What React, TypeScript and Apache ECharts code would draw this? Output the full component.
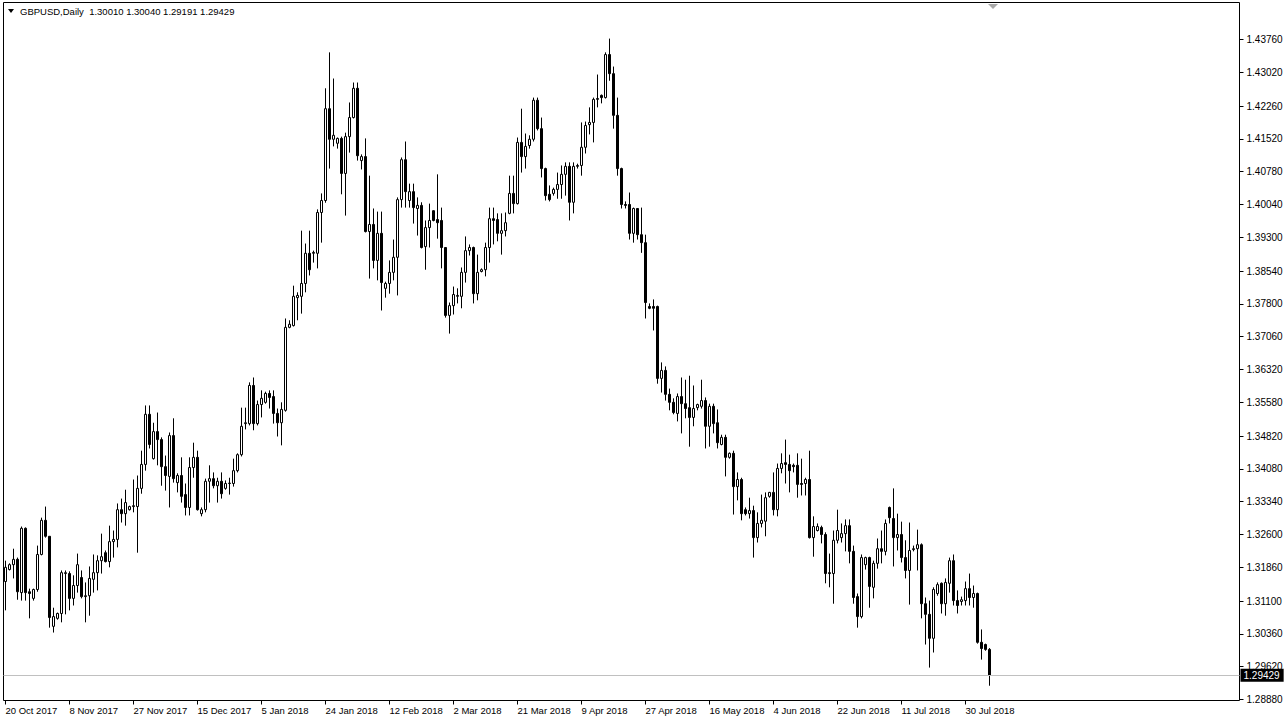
import { useEffect, useRef } from 'react';
import * as echarts from 'echarts';

const symbolTitle = 'GBPUSD,Daily';
const headerValues = ['1.30010', '1.30040', '1.29191', '1.29429'];

const tickLabels = [
  '20 Oct 2017', '8 Nov 2017', '27 Nov 2017', '15 Dec 2017', '5 Jan 2018', '24 Jan 2018',
  '12 Feb 2018', '2 Mar 2018', '21 Mar 2018', '9 Apr 2018', '27 Apr 2018', '16 May 2018',
  '4 Jun 2018', '22 Jun 2018', '11 Jul 2018', '30 Jul 2018',
];
const BARS_PER_LABEL = 16;
const TOTAL_SLOTS = 309;

const priceTicks = [
  1.4376, 1.4302, 1.4226, 1.4152, 1.4078, 1.4004, 1.393, 1.3854, 1.378, 1.3706, 1.3632,
  1.3558, 1.3482, 1.3408, 1.3334, 1.326, 1.3186, 1.311, 1.3036, 1.2962, 1.2888,
];
const Y_MIN = 1.28858;
const Y_MAX = 1.44594;
const lastPrice = 1.29429;

const opens = [
  1.3154, 1.3181, 1.3192, 1.3204, 1.3129, 1.3274, 1.3131, 1.3116, 1.3136, 1.3215,
  1.3292, 1.3256, 1.3053, 1.3071, 1.3082, 1.3172, 1.3172, 1.3116, 1.3145, 1.3163,
  1.3120, 1.3122, 1.3159, 1.3174, 1.3201, 1.3219, 1.3199, 1.3244, 1.3249, 1.3316,
  1.3307, 1.3316, 1.3323, 1.3323, 1.3364, 1.3418, 1.3531, 1.3431, 1.3492, 1.3474,
  1.3413, 1.3391, 1.3483, 1.3377, 1.3393, 1.3350, 1.3321, 1.3411, 1.3434, 1.3307,
  1.3316, 1.3380, 1.3386, 1.3370, 1.3380, 1.3364, 1.3375, 1.3375, 1.3404, 1.3440,
  1.3510, 1.3510, 1.3596, 1.3510, 1.3553, 1.3558, 1.3578, 1.3571, 1.3533, 1.3512,
  1.3540, 1.3727, 1.3731, 1.3794, 1.3797, 1.3826, 1.3894, 1.3894, 1.3894, 1.3986,
  1.4013, 1.4220, 1.4151, 1.4142, 1.4153, 1.4074, 1.4157, 1.4200, 1.4266, 1.4103,
  1.4112, 1.3943, 1.3959, 1.3878, 1.3939, 1.3815, 1.3826, 1.3851, 1.3885, 1.4015,
  1.4105, 1.4013, 1.4033, 1.3995, 1.4002, 1.3909, 1.3952, 1.3990, 1.3970, 1.3968,
  1.3907, 1.3754, 1.3776, 1.3797, 1.3797, 1.3851, 1.3900, 1.3907, 1.3803, 1.3853,
  1.3857, 1.3907, 1.3972, 1.3970, 1.3939, 1.3945, 1.3984, 1.4029, 1.4006, 1.4144,
  1.4112, 1.4137, 1.4151, 1.4239, 1.4175, 1.4085, 1.4027, 1.4029, 1.4038, 1.4049,
  1.4072, 1.4090, 1.4009, 1.4090, 1.4092, 1.4133, 1.4184, 1.4189, 1.4241, 1.4250,
  1.4245, 1.4342, 1.4299, 1.4205, 1.4085, 1.4004, 1.4004, 1.3939, 1.3995, 1.3936,
  1.3918, 1.3774, 1.3774, 1.3774, 1.3612, 1.3630, 1.3576, 1.3558, 1.3533, 1.3571,
  1.3555, 1.3546, 1.3524, 1.3546, 1.3549, 1.3562, 1.3504, 1.3549, 1.3512, 1.3463,
  1.3479, 1.3434, 1.3443, 1.3368, 1.3384, 1.3316, 1.3307, 1.3314, 1.3253, 1.3285,
  1.3290, 1.3346, 1.3355, 1.3316, 1.3409, 1.3422, 1.3418, 1.3416, 1.3416, 1.3375,
  1.3375, 1.3384, 1.3253, 1.3269, 1.3276, 1.3260, 1.3174, 1.3172, 1.3247, 1.3253,
  1.3262, 1.3280, 1.3222, 1.3120, 1.3075, 1.3192, 1.3208, 1.3141, 1.3195, 1.3228,
  1.3222, 1.3321, 1.3296, 1.3253, 1.3260, 1.3208, 1.3179, 1.3226, 1.3228, 1.3237,
  1.3104, 1.3080, 1.3026, 1.3127, 1.3150, 1.3104, 1.3150, 1.3201, 1.3111, 1.3109,
  1.3111, 1.3138, 1.3118, 1.3127, 1.3017, 1.3012, 1.30010,
];
const closes = [
  1.3186, 1.3192, 1.3204, 1.3131, 1.3274, 1.3129, 1.3127, 1.3136, 1.3215, 1.3292,
  1.3256, 1.3073, 1.3075, 1.3082, 1.3174, 1.3174, 1.3116, 1.3145, 1.3192, 1.3120,
  1.3122, 1.3161, 1.3174, 1.3201, 1.3210, 1.3199, 1.3244, 1.3249, 1.3316, 1.3307,
  1.3332, 1.3323, 1.3325, 1.3364, 1.3418, 1.3531, 1.3463, 1.3492, 1.3474, 1.3413,
  1.3393, 1.3483, 1.3386, 1.3393, 1.3346, 1.3321, 1.3411, 1.3434, 1.3316, 1.3316,
  1.3380, 1.3386, 1.3370, 1.3380, 1.3352, 1.3375, 1.3376, 1.3404, 1.3440, 1.3504,
  1.3512, 1.3596, 1.3510, 1.3553, 1.3567, 1.3578, 1.3569, 1.3533, 1.3512, 1.3542,
  1.3727, 1.3734, 1.3797, 1.3799, 1.3826, 1.3894, 1.3857, 1.3896, 1.3986, 1.4013,
  1.4220, 1.4151, 1.4160, 1.4153, 1.4074, 1.4157, 1.4200, 1.4266, 1.4114, 1.4112,
  1.3943, 1.3959, 1.3878, 1.3939, 1.3828, 1.3826, 1.3851, 1.3885, 1.4015, 1.4105,
  1.4033, 1.4033, 1.3997, 1.4002, 1.3907, 1.3952, 1.3968, 1.3968, 1.3963, 1.3907,
  1.3754, 1.3776, 1.3801, 1.3799, 1.3851, 1.3900, 1.3907, 1.3803, 1.3851, 1.3857,
  1.3907, 1.3972, 1.3968, 1.3939, 1.3945, 1.3963, 1.4029, 1.4006, 1.4144, 1.4112,
  1.4135, 1.4151, 1.4239, 1.4175, 1.4085, 1.4024, 1.4015, 1.4038, 1.4049, 1.4072,
  1.4090, 1.4009, 1.4090, 1.4092, 1.4133, 1.4182, 1.4189, 1.4241, 1.4243, 1.4245,
  1.4342, 1.4299, 1.4205, 1.4085, 1.4004, 1.4002, 1.3939, 1.3995, 1.3936, 1.3918,
  1.3783, 1.3770, 1.3770, 1.3612, 1.3630, 1.3576, 1.3558, 1.3535, 1.3571, 1.3555,
  1.3544, 1.3524, 1.3544, 1.3553, 1.3562, 1.3504, 1.3549, 1.3510, 1.3467, 1.3479,
  1.3434, 1.3443, 1.3368, 1.3384, 1.3307, 1.3307, 1.3314, 1.3253, 1.3285, 1.3292,
  1.3343, 1.3355, 1.3316, 1.3409, 1.3420, 1.3418, 1.3404, 1.3413, 1.3373, 1.3373,
  1.3384, 1.3253, 1.3278, 1.3278, 1.3260, 1.3172, 1.3172, 1.3247, 1.3269, 1.3262,
  1.3280, 1.3222, 1.3118, 1.3075, 1.3208, 1.3208, 1.3143, 1.3195, 1.3228, 1.3222,
  1.3285, 1.3298, 1.3253, 1.3260, 1.3208, 1.3179, 1.3224, 1.3228, 1.3237, 1.3104,
  1.3080, 1.3026, 1.3136, 1.3147, 1.3104, 1.3152, 1.3201, 1.3111, 1.3100, 1.3113,
  1.3138, 1.3118, 1.3127, 1.3017, 1.3003, 1.3001, 1.29429,
];
const lows = [
  1.3089, 1.3179, 1.3161, 1.3113, 1.3111, 1.3111, 1.3071, 1.3111, 1.3131, 1.3213,
  1.3253, 1.3050, 1.3039, 1.3068, 1.3062, 1.3080, 1.3089, 1.3100, 1.3129, 1.3116,
  1.3062, 1.3077, 1.3129, 1.3134, 1.3172, 1.3197, 1.3186, 1.3208, 1.3231, 1.3287,
  1.3280, 1.3314, 1.3310, 1.3219, 1.3352, 1.3404, 1.3454, 1.3429, 1.3416, 1.3370,
  1.3359, 1.3321, 1.3377, 1.3355, 1.3332, 1.3303, 1.3303, 1.3388, 1.3314, 1.3301,
  1.3310, 1.3332, 1.3364, 1.3332, 1.3341, 1.3361, 1.3350, 1.3368, 1.3400, 1.3436,
  1.3497, 1.3506, 1.3495, 1.3506, 1.3524, 1.3555, 1.3544, 1.3510, 1.3481, 1.3461,
  1.3537, 1.3725, 1.3729, 1.3743, 1.3758, 1.3806, 1.3844, 1.3873, 1.3860, 1.3918,
  1.4008, 1.4085, 1.4135, 1.4130, 1.4027, 1.3979, 1.4121, 1.4198, 1.4103, 1.4083,
  1.3941, 1.3837, 1.3860, 1.3833, 1.3765, 1.3794, 1.3803, 1.3833, 1.3799, 1.3997,
  1.3997, 1.3997, 1.3961, 1.3934, 1.3905, 1.3857, 1.3907, 1.3966, 1.3927, 1.3860,
  1.3749, 1.3713, 1.3756, 1.3781, 1.3770, 1.3828, 1.3889, 1.3781, 1.3788, 1.3851,
  1.3842, 1.3873, 1.3914, 1.3921, 1.3891, 1.3932, 1.3982, 1.3984, 1.4004, 1.4076,
  1.4085, 1.4130, 1.4146, 1.4171, 1.4065, 1.4013, 1.4011, 1.4024, 1.4017, 1.4017,
  1.4024, 1.3968, 1.3984, 1.4085, 1.4069, 1.4119, 1.4162, 1.4144, 1.4223, 1.4232,
  1.4243, 1.4283, 1.4175, 1.4069, 1.3995, 1.3995, 1.3925, 1.3918, 1.3925, 1.3895,
  1.3747, 1.3768, 1.3720, 1.3600, 1.3580, 1.3562, 1.3540, 1.3531, 1.3515, 1.3488,
  1.3522, 1.3458, 1.3504, 1.3540, 1.3544, 1.3454, 1.3458, 1.3488, 1.3454, 1.3461,
  1.3391, 1.3431, 1.3305, 1.3337, 1.3292, 1.3303, 1.3296, 1.3208, 1.3242, 1.3276,
  1.3256, 1.3343, 1.3303, 1.3301, 1.3398, 1.3375, 1.3355, 1.3400, 1.3343, 1.3348,
  1.3348, 1.3251, 1.3210, 1.3267, 1.3240, 1.3150, 1.3141, 1.3104, 1.3240, 1.3242,
  1.3222, 1.3195, 1.3104, 1.3050, 1.3071, 1.3181, 1.3095, 1.3116, 1.3183, 1.3195,
  1.3213, 1.3285, 1.3188, 1.3224, 1.3197, 1.3161, 1.3102, 1.3222, 1.3179, 1.3071,
  1.3012, 1.2960, 1.2994, 1.3122, 1.3082, 1.3077, 1.3129, 1.3100, 1.3082, 1.3100,
  1.3100, 1.3100, 1.3095, 1.3014, 1.2978, 1.2998, 1.29191,
];
const highs = [
  1.3201, 1.3195, 1.3228, 1.3208, 1.3278, 1.3276, 1.3138, 1.3138, 1.3235, 1.3298,
  1.3323, 1.3256, 1.3095, 1.3084, 1.3179, 1.3179, 1.3177, 1.3168, 1.3217, 1.3179,
  1.3152, 1.3188, 1.3215, 1.3213, 1.3262, 1.3224, 1.3280, 1.3269, 1.3330, 1.3341,
  1.3361, 1.3325, 1.3384, 1.3393, 1.3449, 1.3551, 1.3551, 1.3512, 1.3535, 1.3479,
  1.3438, 1.3490, 1.3522, 1.3398, 1.3434, 1.3375, 1.3434, 1.3467, 1.3449, 1.3321,
  1.3386, 1.3416, 1.3400, 1.3388, 1.3400, 1.3382, 1.3388, 1.3431, 1.3443, 1.3546,
  1.3546, 1.3603, 1.3614, 1.3562, 1.3585, 1.3582, 1.3585, 1.3585, 1.3544, 1.3558,
  1.3747, 1.3743, 1.3821, 1.3806, 1.3945, 1.3916, 1.3945, 1.3900, 1.3993, 1.4029,
  1.4266, 1.4347, 1.4288, 1.4155, 1.4157, 1.4166, 1.4234, 1.4279, 1.4279, 1.4117,
  1.4153, 1.4069, 1.3995, 1.3988, 1.3988, 1.3830, 1.3878, 1.3925, 1.4020, 1.4110,
  1.4146, 1.4051, 1.4051, 1.4020, 1.4009, 1.3968, 1.4006, 1.3991, 1.4072, 1.3997,
  1.3908, 1.3783, 1.3819, 1.3815, 1.3862, 1.3932, 1.3914, 1.3909, 1.3891, 1.3860,
  1.3918, 1.3997, 1.3997, 1.3984, 1.3984, 1.3986, 1.4069, 1.4069, 1.4155, 1.4220,
  1.4164, 1.4160, 1.4245, 1.4245, 1.4200, 1.4087, 1.4047, 1.4042, 1.4076, 1.4092,
  1.4099, 1.4099, 1.4099, 1.4096, 1.4189, 1.4191, 1.4223, 1.4245, 1.4297, 1.4252,
  1.4347, 1.4378, 1.4315, 1.4245, 1.4087, 1.4011, 1.4031, 1.3997, 1.3995, 1.3997,
  1.3936, 1.3781, 1.3790, 1.3776, 1.3648, 1.3639, 1.3589, 1.3567, 1.3578, 1.3614,
  1.3609, 1.3618, 1.3596, 1.3555, 1.3609, 1.3569, 1.3555, 1.3555, 1.3542, 1.3485,
  1.3485, 1.3445, 1.3449, 1.3400, 1.3388, 1.3321, 1.3343, 1.3325, 1.3310, 1.3350,
  1.3355, 1.3356, 1.3400, 1.3420, 1.3443, 1.3474, 1.3440, 1.3420, 1.3443, 1.3431,
  1.3388, 1.3449, 1.3301, 1.3285, 1.3280, 1.3265, 1.3217, 1.3269, 1.3316, 1.3285,
  1.3294, 1.3294, 1.3235, 1.3127, 1.3215, 1.3210, 1.3210, 1.3201, 1.3251, 1.3269,
  1.3294, 1.3323, 1.3364, 1.3307, 1.3289, 1.3247, 1.3287, 1.3235, 1.3271, 1.3240,
  1.3118, 1.3111, 1.3141, 1.3152, 1.3152, 1.3161, 1.3208, 1.3215, 1.3134, 1.3120,
  1.3154, 1.3172, 1.3145, 1.3129, 1.3046, 1.3014, 1.30040,
];

const FONT = 'Liberation Sans, Arial, sans-serif';

export default function App() {
  const ref = useRef<HTMLDivElement>(null);

  useEffect(() => {
    if (!ref.current) return;
    const chart = echarts.init(ref.current, null, { renderer: 'svg' });
    const categories = Array.from({ length: TOTAL_SLOTS }, (_, i) => String(i));
    const candles = opens.map((o, i) => [o, closes[i], lows[i], highs[i]]);
    const isLabelSlot = (i: number) =>
      i % BARS_PER_LABEL === 0 && i / BARS_PER_LABEL < tickLabels.length;

    chart.setOption({
      animation: false,
      backgroundColor: '#ffffff',
      textStyle: { fontFamily: FONT },
      grid: {
        left: 3.5,
        right: 48.5,
        top: 2.5,
        bottom: 23.5,
        show: true,
        borderColor: '#000000',
        borderWidth: 1,
        backgroundColor: 'transparent',
      },
      xAxis: {
        type: 'category',
        data: categories,
        boundaryGap: true,
        axisLine: { show: false },
        axisTick: {
          show: true,
          alignWithLabel: true,
          interval: (i: number) => isLabelSlot(i),
          length: 4,
          lineStyle: { color: '#000' },
        },
        axisLabel: {
          interval: (i: number) => isLabelSlot(i),
          formatter: (_v: string, i: number) => (isLabelSlot(i) ? tickLabels[i / BARS_PER_LABEL] : ''),
          align: 'left',
          margin: 5,
          color: '#000',
          fontSize: 9.5,
          fontFamily: FONT,
        },
        splitLine: { show: false },
      },
      yAxis: {
        type: 'value',
        position: 'right',
        min: Y_MIN,
        max: Y_MAX,
        scale: true,
        splitLine: { show: false },
        axisLine: { show: false },
        axisTick: {
          show: true,
          customValues: priceTicks,
          length: 4,
          lineStyle: { color: '#000' },
        },
        axisLabel: {
          customValues: priceTicks,
          formatter: (v: number) => v.toFixed(5),
          margin: 7,
          color: '#000',
          fontSize: 10,
          fontFamily: FONT,
        },
      },
      series: [
        {
          type: 'candlestick',
          data: candles,
          barWidth: 3,
          itemStyle: {
            color: '#ffffff',
            color0: '#000000',
            borderColor: '#000000',
            borderColor0: '#000000',
            borderWidth: 1,
          },
        },
        {
          type: 'line',
          data: [],
          silent: true,
          markLine: {
            silent: true,
            precision: 5,
            symbol: ['none', 'none'],
            lineStyle: { color: '#c0c0c0', type: 'solid', width: 1 },
            label: {
              show: true,
              position: 'end',
              formatter: lastPrice.toFixed(5),
              backgroundColor: '#000',
              color: '#fff',
              padding: [2, 4, 1, 3],
              distance: 1,
              fontSize: 10,
              fontFamily: FONT,
            },
            data: [{ yAxis: lastPrice }],
          },
        },
      ],
      graphic: [
        {
          type: 'polygon',
          shape: { points: [[8, 9], [14, 9], [11, 13]] },
          style: { fill: '#000' },
        },
        {
          type: 'text',
          left: 20,
          top: 6,
          style: {
            text: symbolTitle + '  ' + headerValues.join(' '),
            fill: '#000',
            font: '9.5px ' + FONT,
          },
        },
        {
          type: 'polygon',
          shape: { points: [[988, 4], [998, 4], [993, 9]] },
          style: { fill: '#a8a8a8' },
        },
      ],
    });

    return () => chart.dispose();
  }, []);

  return (
    <div
      ref={ref}
      style={{ position: 'absolute', left: 0, top: 0, width: 1288, height: 724, background: '#fff' }}
    />
  );
}
